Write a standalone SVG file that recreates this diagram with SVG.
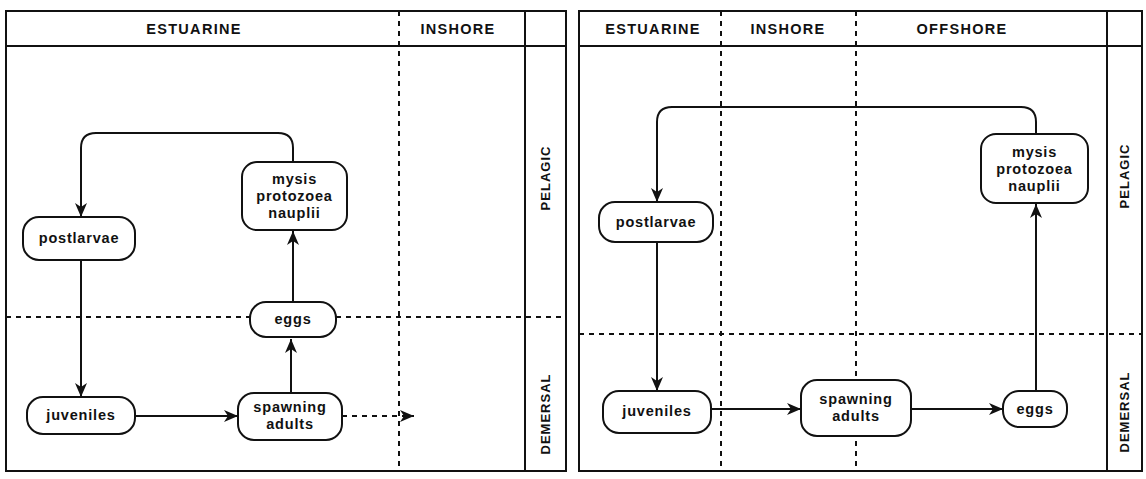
<svg xmlns="http://www.w3.org/2000/svg" width="1146" height="479" viewBox="0 0 1146 479">
<style>
.frame{fill:none;stroke:#111;stroke-width:2}
.sep{stroke:#111;stroke-width:2}
.dash{stroke:#111;stroke-width:2;stroke-dasharray:5 5;fill:none}
.node{fill:#fff;stroke:#111;stroke-width:2}
.lbl{font-family:"Liberation Sans",Arial,sans-serif;font-weight:bold;font-size:14.5px;fill:#111;text-anchor:middle;letter-spacing:0.8px}
.hdr{font-family:"Liberation Sans",Arial,sans-serif;font-weight:bold;font-size:14.5px;fill:#111;text-anchor:middle;letter-spacing:1.3px}
.side{font-family:"Liberation Sans",Arial,sans-serif;font-weight:bold;font-size:13px;fill:#111;text-anchor:middle;letter-spacing:1px}
.conn{fill:none;stroke:#111;stroke-width:2}
.conn-d{fill:none;stroke:#111;stroke-width:2;stroke-dasharray:5 5}
</style>
<defs>
<marker id="ah" viewBox="0 0 14 12" refX="14" refY="6" markerWidth="14" markerHeight="12" orient="auto" markerUnits="userSpaceOnUse">
<path d="M0,0 L14,6 L0,12 L4,6 Z" fill="#111"/>
</marker>
</defs>
<rect width="1146" height="479" fill="#fff"/>

<!-- LEFT PANEL -->
<g id="left-panel">
<rect class="frame" x="6" y="11" width="560" height="460"/>
<line class="sep" x1="6" y1="46" x2="566" y2="46"/>
<line class="sep" x1="525" y1="11" x2="525" y2="471"/>
<line class="dash" x1="399" y1="11" x2="399" y2="471"/>
<line class="dash" x1="6" y1="317" x2="566" y2="317"/>
<text class="hdr" x="194" y="34">ESTUARINE</text>
<text class="hdr" x="458" y="34">INSHORE</text>
<text class="side" transform="translate(550,178) rotate(-90)">PELAGIC</text>
<text class="side" transform="translate(550,414) rotate(-90)">DEMERSAL</text>
</g>

<g id="connectors-left">
<path class="conn" d="M293,162 V148 Q293,133 278,133 H96 Q81,133 81,148 V217" marker-end="url(#ah)"/>
<path class="conn" d="M81,260 V397" marker-end="url(#ah)"/>
<path class="conn" d="M135,416 H238" marker-end="url(#ah)"/>
<path class="conn" d="M291,393 V339" marker-end="url(#ah)"/>
<path class="conn" d="M293,302 V231" marker-end="url(#ah)"/>
<path class="conn-d" d="M342,416 H414" marker-end="url(#ah)"/>
</g>

<g id="l-postlarvae"><rect class="node" x="23" y="217" width="112" height="43" rx="16"/><text class="lbl" x="79" y="243">postlarvae</text></g>
<g id="l-mysis"><rect class="node" x="242" y="162" width="105" height="68" rx="15"/><text class="lbl" x="294.5" y="184">mysis</text><text class="lbl" x="294.5" y="201">protozoea</text><text class="lbl" x="294.5" y="218">nauplii</text></g>
<g id="l-eggs"><rect class="node" x="250" y="302" width="86" height="35" rx="16"/><text class="lbl" x="293" y="324">eggs</text></g>
<g id="l-juveniles"><rect class="node" x="27" y="397" width="108" height="37" rx="16"/><text class="lbl" x="81" y="420">juveniles</text></g>
<g id="l-spawning"><rect class="node" x="238" y="393" width="104" height="47" rx="16"/><text class="lbl" x="290" y="412">spawning</text><text class="lbl" x="290" y="429">adults</text></g>

<!-- RIGHT PANEL -->
<g id="right-panel">
<rect class="frame" x="579" y="11" width="563" height="460"/>
<line class="sep" x1="579" y1="46" x2="1142" y2="46"/>
<line class="sep" x1="1107" y1="11" x2="1107" y2="471"/>
<line class="dash" x1="721" y1="11" x2="721" y2="471"/>
<line class="dash" x1="856" y1="11" x2="856" y2="471"/>
<line class="dash" x1="579" y1="334" x2="1142" y2="334"/>
<text class="hdr" x="653" y="34">ESTUARINE</text>
<text class="hdr" x="788" y="34">INSHORE</text>
<text class="hdr" x="962" y="34">OFFSHORE</text>
<text class="side" transform="translate(1129,176) rotate(-90)">PELAGIC</text>
<text class="side" transform="translate(1129,412) rotate(-90)">DEMERSAL</text>
</g>

<g id="connectors-right">
<path class="conn" d="M1036,134 V122 Q1036,107 1021,107 H672 Q657,107 657,122 V202" marker-end="url(#ah)"/>
<path class="conn" d="M657,242 V391" marker-end="url(#ah)"/>
<path class="conn" d="M711,409 H801" marker-end="url(#ah)"/>
<path class="conn" d="M911,409 H1003" marker-end="url(#ah)"/>
<path class="conn" d="M1036,391 V204" marker-end="url(#ah)"/>
</g>

<g id="r-postlarvae"><rect class="node" x="599" y="202" width="114" height="40" rx="16"/><text class="lbl" x="656" y="227">postlarvae</text></g>
<g id="r-mysis"><rect class="node" x="981" y="134" width="107" height="69" rx="15"/><text class="lbl" x="1034.5" y="157">mysis</text><text class="lbl" x="1034.5" y="174">protozoea</text><text class="lbl" x="1034.5" y="191">nauplii</text></g>
<g id="r-juveniles"><rect class="node" x="603" y="391" width="108" height="42" rx="16"/><text class="lbl" x="657" y="416">juveniles</text></g>
<g id="r-spawning"><rect class="node" x="801" y="380" width="110" height="56" rx="16"/><text class="lbl" x="856" y="404">spawning</text><text class="lbl" x="856" y="421">adults</text></g>
<g id="r-eggs"><rect class="node" x="1003" y="391" width="64" height="36" rx="16"/><text class="lbl" x="1035" y="414">eggs</text></g>
</svg>
